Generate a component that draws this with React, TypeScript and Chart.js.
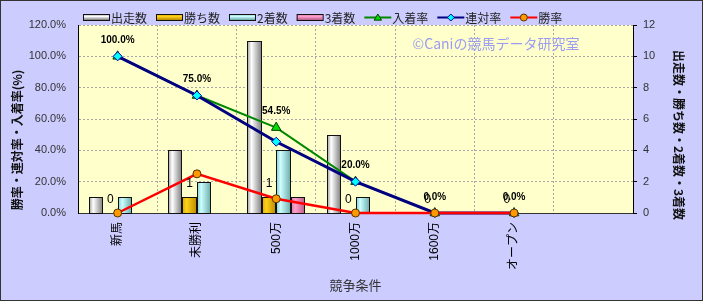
import { useEffect, useRef } from 'react';
import { Chart, registerables } from 'chart.js';

Chart.register(...registerables);

// ---- data ----
const categories = ['新馬', '未勝利', '500万', '1000万', '1600万', 'オープン', ''];
const starts = [1, 4, 11, 5, 0, 0];
const wins = [0, 1, 1, 0, 0, 0];
const seconds = [1, 2, 4, 1, 0, 0];
const thirds = [0, 0, 1, 0, 0, 0];
const placeRate = [100, 75, 54.5, 20, 0, 0];
const quinellaRate = [100, 75, 45.5, 20, 0, 0];
const winRate = [0, 25, 9.1, 0, 0, 0];

const leftTitle = '勝率・連対率・入着率(%)';
const rightTitle = '出走数・勝ち数・2着数・3着数';
const xTitle = '競争条件';
const watermark = '©Caniの競馬データ研究室';

const W = 703;
const H = 301;
const FONT = "'Liberation Sans', 'Noto Sans CJK JP', sans-serif";
const JFONT = "'Noto Sans CJK JP', sans-serif";

type Stops = [number, string][];
const grey: Stops = [[0, '#9a9a9a'], [0.3, '#ffffff'], [1, '#7c7c7c']];
const gold: Stops = [[0, '#d9a400'], [0.3, '#ffd11a'], [1, '#b98a00']];
const cyan: Stops = [[0, '#86c8c8'], [0.3, '#ccffff'], [1, '#6aa8a8']];
const pink: Stops = [[0, '#d67aa6'], [0.3, '#ff9fcc'], [1, '#b85c8a']];

function drawMarker(ctx: CanvasRenderingContext2D, style: string, x: number, y: number, r: number, fill: string, stroke: string) {
  ctx.save();
  ctx.beginPath();
  if (style === 'triangle') {
    ctx.moveTo(x, y - r);
    ctx.lineTo(x + r * 1.05, y + r * 0.75);
    ctx.lineTo(x - r * 1.05, y + r * 0.75);
    ctx.closePath();
  } else if (style === 'rectRot') {
    ctx.moveTo(x, y - r);
    ctx.lineTo(x + r, y);
    ctx.lineTo(x, y + r);
    ctx.lineTo(x - r, y);
    ctx.closePath();
  } else {
    ctx.arc(x, y, r, 0, Math.PI * 2);
  }
  ctx.fillStyle = fill;
  ctx.fill();
  ctx.lineWidth = 1;
  ctx.strokeStyle = stroke;
  ctx.stroke();
  ctx.restore();
}

const decorPlugin = {
  id: 'decor',
  beforeDraw(chart: any) {
    const { ctx, chartArea: a } = chart;
    ctx.save();
    ctx.fillStyle = '#ccccff';
    ctx.fillRect(0, 0, W, H);
    ctx.fillStyle = '#ffffcc';
    ctx.fillRect(a.left, a.top, a.right - a.left, a.bottom - a.top);
    ctx.restore();
  },
  beforeDatasetsDraw(chart: any) {
    const { ctx, chartArea: a } = chart;
    ctx.save();
    ctx.font = `14px ${JFONT}`;
    ctx.fillStyle = '#9c9cf2';
    ctx.textAlign = 'center';
    ctx.textBaseline = 'middle';
    ctx.fillText(watermark, a.right - 137, a.top + 19);
    ctx.restore();
  },
  afterDatasetDraw(chart: any, args: any) {
    const ds = chart.data.datasets[args.index];
    if (!ds.gradStops) return;
    const ctx = chart.ctx;
    ctx.save();
    args.meta.data.forEach((el: any, i: number) => {
      const v = ds.data[i];
      if (!v) return;
      const { x, y, base, width } = el.getProps(['x', 'y', 'base', 'width'], true);
      const l = Math.round(x - width / 2);
      const r = Math.round(x + width / 2);
      const t = Math.round(y);
      const b = Math.round(base);
      const g = ctx.createLinearGradient(l, 0, r, 0);
      ds.gradStops.forEach((s: [number, string]) => g.addColorStop(s[0], s[1]));
      ctx.fillStyle = g;
      ctx.fillRect(l, t, r - l, b - t);
      ctx.lineWidth = 1;
      ctx.strokeStyle = '#111';
      ctx.strokeRect(l + 0.5, t + 0.5, r - l - 1, b - t);
    });
    ctx.restore();
  },
  afterDatasetsDraw(chart: any) {
    const ctx = chart.ctx;
    ctx.save();
    ctx.textAlign = 'center';
    ctx.textBaseline = 'middle';
    ctx.fillStyle = '#000';
    chart.data.datasets.forEach((ds: any, di: number) => {
      const meta = chart.getDatasetMeta(di);
      if (ds.valueLabel === 'percent') {
        ctx.font = `bold 10px ${FONT}`;
        meta.data.forEach((pt: any, i: number) => {
          ctx.fillText(ds.data[i].toFixed(1) + '%', pt.x, pt.y - 16);
        });
      } else if (ds.valueLabel === 'count') {
        ctx.font = `12px ${FONT}`;
        meta.data.forEach((el: any, i: number) => {
          ctx.fillText(String(ds.data[i]), el.x, el.y - 13.5);
        });
      }
    });
    ctx.restore();
  },
  afterDraw(chart: any) {
    const { ctx, chartArea: a } = chart;
    ctx.save();
    // legend
    let x = 83;
    const ly = 17;
    ctx.font = `12px ${JFONT}`;
    ctx.textBaseline = 'middle';
    ctx.textAlign = 'left';
    chart.data.datasets.forEach((ds: any) => {
      if (ds.gradStops) {
        const g = ctx.createLinearGradient(0, ly - 3, 0, ly + 3);
        g.addColorStop(0, ds.gradStops[0][1]);
        g.addColorStop(0.4, ds.gradStops[1][1]);
        g.addColorStop(1, ds.gradStops[2][1]);
        ctx.fillStyle = g;
        ctx.fillRect(x, ly - 3, 26, 7);
        ctx.strokeStyle = '#111';
        ctx.lineWidth = 1;
        ctx.strokeRect(x + 0.5, ly - 3 + 0.5, 26, 6);
      } else {
        ctx.strokeStyle = ds.borderColor;
        ctx.lineWidth = 2;
        ctx.beginPath();
        ctx.moveTo(x, ly + 0.5);
        ctx.lineTo(x + 27, ly + 0.5);
        ctx.stroke();
        drawMarker(ctx, ds.pointStyle, x + 13.5, ly + 0.5, 3.5, ds.pointBackgroundColor, ds.pointBorderColor);
      }
      ctx.fillStyle = '#222';
      ctx.fillText(ds.label, x + 28, ly + 1);
      x += 28 + ctx.measureText(ds.label).width + 9;
    });

    // axis titles
    ctx.fillStyle = '#111';
    ctx.textAlign = 'center';
    ctx.font = `bold 12px ${JFONT}`;
    ctx.save();
    ctx.translate(17, 140);
    ctx.rotate(-Math.PI / 2);
    ctx.fillText(leftTitle, 0, 0);
    ctx.restore();
    ctx.save();
    ctx.translate(679, 135);
    ctx.rotate(Math.PI / 2);
    ctx.fillText(rightTitle, 0, 0);
    ctx.restore();
    ctx.font = `13px ${JFONT}`;
    ctx.fillStyle = '#333';
    ctx.fillText(xTitle, (a.left + a.right) / 2, 285);

    // outer border
    ctx.strokeStyle = '#333';
    ctx.lineWidth = 1;
    ctx.strokeRect(0.5, 0.5, W - 1, H - 1);
    ctx.restore();
  },
};

export default function App() {
  const ref = useRef<HTMLCanvasElement>(null);
  useEffect(() => {
    document.body.style.margin = '0';
    const canvas = ref.current!;
    const barCommon = {
      type: 'bar' as const,
      yAxisID: 'y1',
      backgroundColor: 'rgba(0,0,0,0)',
      borderWidth: 0,
      categoryPercentage: 0.73,
      barPercentage: 1,
      order: 3,
    };
    const lineCommon = {
      type: 'line' as const,
      yAxisID: 'y',
      fill: false,
      tension: 0,
      clip: false,
      pointBorderWidth: 1,
    };
    const chart = new Chart(canvas, {
      type: 'bar',
      data: {
        labels: categories,
        datasets: [
          { ...barCommon, label: '出走数', data: starts, gradStops: grey } as any,
          { ...barCommon, label: '勝ち数', data: wins, gradStops: gold, valueLabel: 'count' } as any,
          { ...barCommon, label: '2着数', data: seconds, gradStops: cyan } as any,
          { ...barCommon, label: '3着数', data: thirds, gradStops: pink } as any,
          {
            ...lineCommon, label: '入着率', data: placeRate, order: 2,
            borderColor: '#008800', borderWidth: 2,
            pointStyle: 'triangle', pointRadius: 5.5,
            pointBackgroundColor: '#00dd00', pointBorderColor: '#004400',
            valueLabel: 'percent',
          } as any,
          {
            ...lineCommon, label: '連対率', data: quinellaRate, order: 1,
            borderColor: '#000080', borderWidth: 3,
            pointStyle: 'rectRot', pointRadius: 4.5,
            pointBackgroundColor: '#00ffff', pointBorderColor: '#0000aa',
          } as any,
          {
            ...lineCommon, label: '勝率', data: winRate, order: 0,
            borderColor: '#ff0000', borderWidth: 2.5,
            pointStyle: 'circle', pointRadius: 4,
            pointBackgroundColor: '#ff9900', pointBorderColor: '#553300',
          } as any,
        ],
      },
      options: {
        responsive: false,
        animation: false,
        devicePixelRatio: 1,
        layout: { padding: { top: 25, left: 0, right: 0, bottom: 0 } },
        plugins: { legend: { display: false }, tooltip: { enabled: false } },
        scales: {
          x: {
            offset: true,
            grid: {
              offset: true,
              drawTicks: false,
              color: (c: any) => (c.index === 0 || c.index >= categories.length ? 'rgba(0,0,0,0)' : '#a8a8a8'),
            },
            border: { color: '#333', dash: [2, 2] },
            ticks: {
              autoSkip: false,
              minRotation: 90,
              maxRotation: 90,
              padding: 9,
              color: '#000',
              font: { family: FONT, size: 12 },
            },
            afterFit: (s: any) => { s.height = 88; },
          },
          y: {
            position: 'left',
            min: 0,
            max: 120,
            grid: {
              drawTicks: false,
              color: (c: any) => (c.tick && c.tick.value === 0 ? 'rgba(0,0,0,0)' : '#a8a8a8'),
            },
            border: { color: '#000', dash: [2, 2] },
            ticks: {
              stepSize: 20,
              padding: 12,
              color: '#333',
              font: { family: FONT, size: 11 },
              callback: (v: any) => Number(v).toFixed(1) + '%',
            },
            afterFit: (s: any) => { s.width = 78; },
          },
          y1: {
            position: 'right',
            min: 0,
            max: 12,
            grid: { drawOnChartArea: false, drawTicks: true, tickLength: 4, color: '#000' },
            border: { color: '#000' },
            ticks: {
              stepSize: 2,
              padding: 6,
              color: '#333',
              font: { family: FONT, size: 11 },
            },
            afterFit: (s: any) => { s.width = 70; },
          },
        },
      } as any,
      plugins: [decorPlugin],
    });
    return () => chart.destroy();
  }, []);
  return <canvas ref={ref} width={W} height={H} style={{ display: 'block', width: W, height: H }} />;
}
